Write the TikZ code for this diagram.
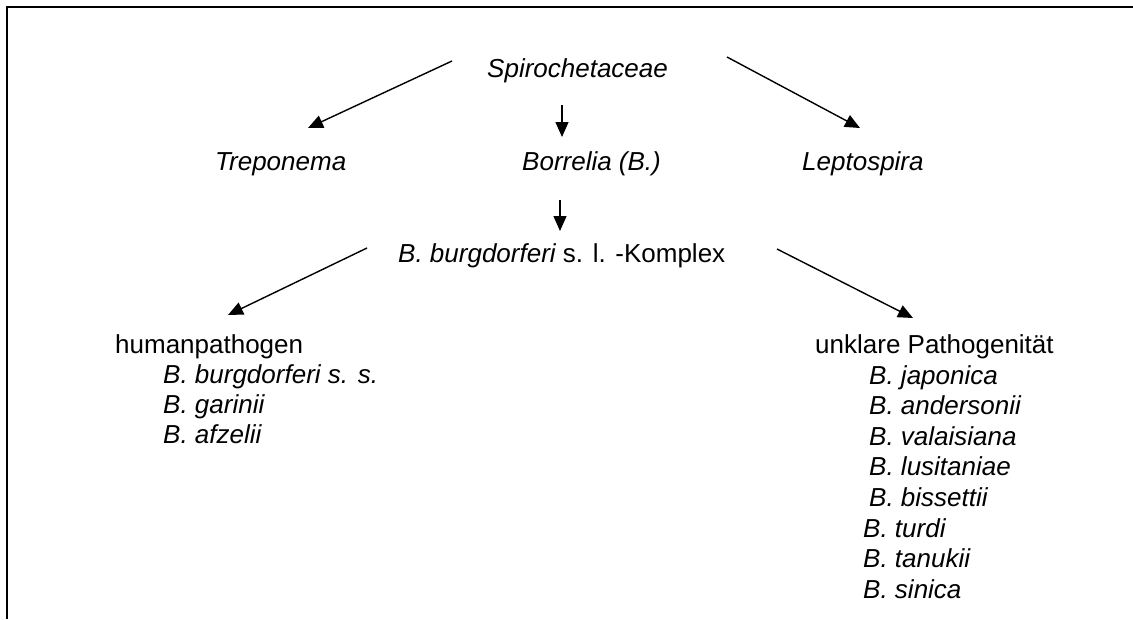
\documentclass[tikz,border=0pt]{standalone}
\usepackage{fontspec}
\setmainfont{Liberation Sans}
\usetikzlibrary{arrows.meta}
\tikzset{
  lbl/.style={anchor=base west, inner sep=0pt, font=\fontsize{26}{30}\selectfont},
  taxon/.style={lbl, font=\fontsize{26}{30}\selectfont\itshape},
  link/.style={line width=1.4pt, -{Triangle[length=15pt,width=13pt]}},
  frame/.style={line width=2.2pt}
}
\begin{document}
\begin{tikzpicture}[x=1pt,y=-1pt]
  \useasboundingbox (0,0) rectangle (1133,619);
  % open frame: top and left edges only
  \coordinate (fTR) at (1133,7);
  \coordinate (fTL) at (7,7);
  \coordinate (fBL) at (7,619);
  \draw[frame] (fTR) -- (fTL) -- (fBL);

  % family and genera
  \node[taxon] (spiro) at (487,77) {Spirochetaceae};
  \node[taxon] (trep)  at (215,170) {Treponema};
  \node[taxon] (borr)  at (522,170) {Borrelia (B.)};
  \node[taxon] (lept)  at (802,170) {Leptospira};
  \node[lbl]   (bbsl)  at (398,262) {\itshape B. burgdorferi\upshape{} s. l. -Komplex};

  % groups
  \node[lbl] (human) at (115,353) {humanpathogen};
  \node[taxon] (h1) at (163,383) {B. burgdorferi s. s.};
  \node[taxon] (h2) at (163,413) {B. garinii};
  \node[taxon] (h3) at (163,443) {B. afzelii};

  \node[lbl] (unkl) at (815,353) {unklare Pathogenität};
  \node[taxon] (u1) at (869,384) {B. japonica};
  \node[taxon] (u2) at (869,414) {B. andersonii};
  \node[taxon] (u3) at (869,445) {B. valaisiana};
  \node[taxon] (u4) at (869,475) {B. lusitaniae};
  \node[taxon] (u5) at (869,506) {B. bissettii};
  \node[taxon] (u6) at (863,537) {B. turdi};
  \node[taxon] (u7) at (863,567) {B. tanukii};
  \node[taxon] (u8) at (863,598) {B. sinica};

  % arrow end points
  \coordinate (aTs) at (452,61);  \coordinate (aTe) at (308,128);
  \coordinate (aLs) at (727,57);  \coordinate (aLe) at (860,128);
  \coordinate (aBs) at (562,105); \coordinate (aBe) at (562,137);
  \coordinate (aKs) at (560,200); \coordinate (aKe) at (560,231);
  \coordinate (aHs) at (367,248); \coordinate (aHe) at (228,315);
  \coordinate (aUs) at (777,249); \coordinate (aUe) at (913,318);

  \draw[link] (aTs) -- (aTe);
  \draw[link] (aLs) -- (aLe);
  \draw[link] (aBs) -- (aBe);
  \draw[link] (aKs) -- (aKe);
  \draw[link] (aHs) -- (aHe);
  \draw[link] (aUs) -- (aUe);
\end{tikzpicture}
\end{document}
